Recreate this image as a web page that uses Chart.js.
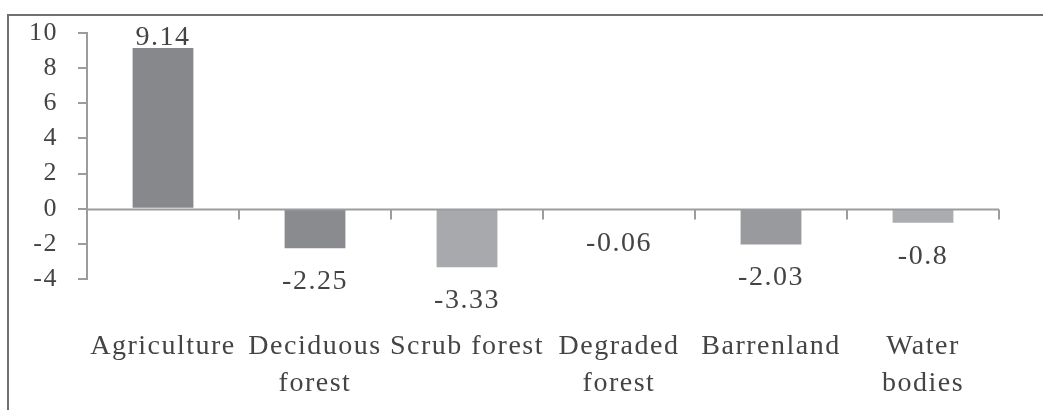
<!DOCTYPE html>
<html>
<head>
<meta charset="utf-8">
<script src="https://cdn.jsdelivr.net/npm/chart.js@4.4.1/dist/chart.umd.min.js"></script>
<style>
  html, body { margin: 0; padding: 0; background: #ffffff; }
  #wrap { position: relative; width: 1043px; height: 410px; overflow: hidden; }
  #frame { position: absolute; left: 7px; top: 14px; width: 1100px; height: 500px;
           border-top: 2px solid #707070; border-left: 2px solid #707070; box-sizing: border-box; }
  canvas { position: absolute; left: 0; top: 0; }
</style>
</head>
<body>
<div id="wrap">
  <div id="frame"></div>
  <canvas id="c" width="1043" height="410"></canvas>
</div>
<script>
const categories = ['Agriculture', ['Deciduous', 'forest'], 'Scrub forest', ['Degraded', 'forest'], 'Barrenland', ['Water', 'bodies']];
const values = [9.14, -2.25, -3.33, -0.06, -2.03, -0.8];
const valueLabels = ['9.14', '-2.25', '-3.33', '-0.06', '-2.03', '-0.8'];
const barColors = ['#87888b', '#8a8b8e', '#a8a9ac', '#9a9b9e', '#999a9d', '#abacaf'];
const yMin = -4, yMax = 10, yStep = 2;

const FONT_FAMILY = '"Liberation Serif", "Times New Roman", serif';
const TEXT_COLOR = '#444444';
const AXIS_COLOR = '#9c9c9c';
const LS = '1.5px';

const spacingPlugin = {
  id: 'spacing',
  beforeUpdate(chart) { chart.ctx.letterSpacing = LS; },
  beforeDraw(chart) { chart.ctx.letterSpacing = LS; }
};

const zeroAxisPlugin = {
  id: 'zeroAxis',
  afterDatasetsDraw(chart) {
    const ctx = chart.ctx, x = chart.scales.x, y = chart.scales.y, a = chart.chartArea;
    const y0 = Math.round(y.getPixelForValue(0)) + 0.5;
    const n = chart.data.labels.length;
    const w = (a.right - a.left) / n;
    ctx.save();
    ctx.strokeStyle = AXIS_COLOR;
    ctx.lineWidth = 2;
    ctx.beginPath();
    ctx.moveTo(a.left, y0);
    ctx.lineTo(a.right, y0);
    for (let k = 1; k <= n; k++) {
      const px = Math.round(x.getPixelForValue(k - 1) + w / 2);
      ctx.moveTo(px, y0);
      ctx.lineTo(px, y0 + 10);
    }
    ctx.stroke();
    ctx.restore();
  }
};

const valueLabelPlugin = {
  id: 'valueLabels',
  afterDatasetsDraw(chart) {
    const ctx = chart.ctx;
    const meta = chart.getDatasetMeta(0);
    ctx.save();
    ctx.letterSpacing = LS;
    ctx.font = '28px ' + FONT_FAMILY;
    ctx.fillStyle = TEXT_COLOR;
    ctx.textAlign = 'center';
    ctx.textBaseline = 'alphabetic';
    meta.data.forEach((bar, i) => {
      const v = values[i];
      const ty = v >= 0 ? bar.y - 3 : bar.y + 41;
      ctx.fillText(valueLabels[i], bar.x, ty);
    });
    ctx.restore();
  }
};

new Chart(document.getElementById('c'), {
  type: 'bar',
  data: {
    labels: categories,
    datasets: [{
      data: values,
      backgroundColor: barColors,
      borderWidth: 0,
      barPercentage: 0.4,
      categoryPercentage: 1.0
    }]
  },
  options: {
    responsive: false,
    devicePixelRatio: 1,
    animation: false,
    layout: { padding: { top: 28, right: 44, left: 0, bottom: 0 } },
    plugins: { legend: { display: false }, tooltip: { enabled: false }, title: { display: false } },
    scales: {
      x: {
        grid: { display: false, drawTicks: false },
        border: { display: false },
        ticks: {
          maxRotation: 0, minRotation: 0, autoSkip: false,
          padding: 49,
          color: TEXT_COLOR,
          font: { family: FONT_FAMILY, size: 28, lineHeight: '37px' }
        },
        afterFit(scale) { scale.height = 131; }
      },
      y: {
        min: yMin, max: yMax,
        grid: { display: true, drawOnChartArea: false, drawTicks: true, tickLength: 9, color: AXIS_COLOR, lineWidth: 2 },
        border: { display: true, color: AXIS_COLOR, width: 2 },
        ticks: {
          stepSize: yStep,
          autoSkip: false,
          padding: 20,
          color: TEXT_COLOR,
          font: { family: FONT_FAMILY, size: 26, lineHeight: 1 }
        },
        afterFit(scale) { scale.width = 87; }
      }
    }
  },
  plugins: [spacingPlugin, zeroAxisPlugin, valueLabelPlugin]
});
</script>
</body>
</html>
